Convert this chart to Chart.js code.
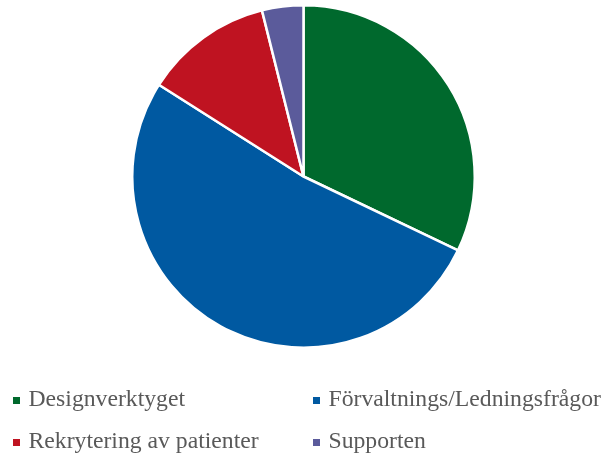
<!DOCTYPE html>
<html>
<head>
<meta charset="utf-8">
<script src="https://cdn.jsdelivr.net/npm/chart.js@4/dist/chart.umd.min.js"></script>
<style>
    body { margin: 0; background: #fff; width: 607px; height: 457px; overflow: hidden; position: relative; }
    #wrap { position: absolute; left: 0; top: 4px; width: 607px; height: 345px; }
    #legend { position: absolute; left: 0; top: 0; width: 607px; height: 457px; font-family: "Liberation Serif", "Times New Roman", "DejaVu Serif", serif; font-size: 23.7px; color: #595959; }
    .item { position: absolute; white-space: nowrap; line-height: 30px; }
    .box { display: inline-block; width: 7px; height: 7px; margin-right: 8.5px; vertical-align: 2.5px; }
</style>
</head>
<body>
<div id="wrap"><canvas id="pieChart"></canvas></div>
<div id="legend"></div>
<script>
// Andelar per kategori (läst från bilden)
const categories = ['Designverktyget', 'Förvaltnings/Ledningsfrågor', 'Rekrytering av patienter', 'Supporten'];
const values = [32.1, 51.9, 12.1, 3.9];
const colors = ['#00692D', '#0059A1', '#BF1321', '#5B5B9B'];

const ctx = document.getElementById('pieChart').getContext('2d');
new Chart(ctx, {
    type: 'pie',
    data: {
        labels: categories,
        datasets: [{
            data: values,
            backgroundColor: colors,
            borderColor: '#ffffff',
            borderWidth: 2.5
        }]
    },
    options: {
        responsive: true,
        maintainAspectRatio: false,
        animation: false,
        layout: { padding: 0 },
        plugins: {
            legend: { display: false },
            tooltip: { enabled: false }
        }
    }
});

// Legend i två kolumner
const legend = document.getElementById('legend');
const pos = [[13, 383], [313, 383], [13, 425], [313, 425]];
legend.innerHTML = categories.map((name, i) => `
    <div class="item" style="left:${pos[i][0]}px; top:${pos[i][1]}px">
        <span class="box" style="background:${colors[i]}"></span>${name}
    </div>
`).join('');
</script>
</body>
</html>
